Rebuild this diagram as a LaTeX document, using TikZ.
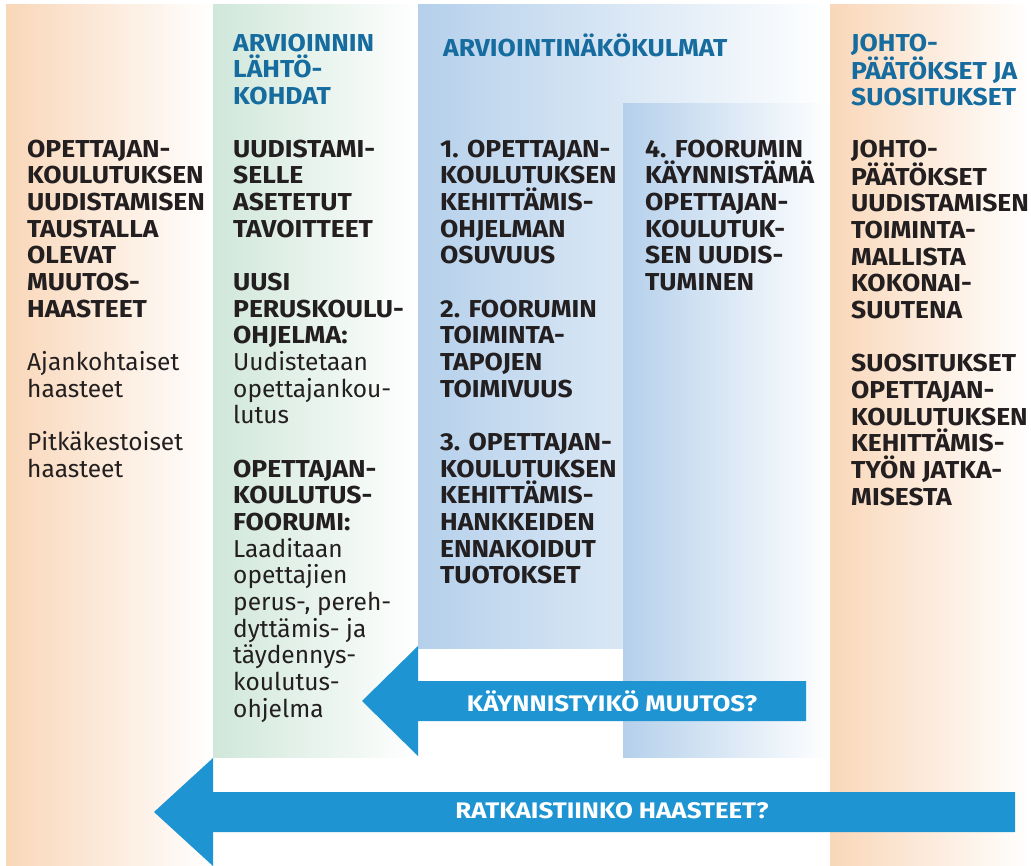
\documentclass[tikz,border=0pt]{standalone}
\usepackage{fontspec}
\setmainfont{Fira Sans}[BoldFeatures={FakeStretch=1.08}]
\newfontfamily\arrowfont{Fira Sans}[BoldFeatures={FakeStretch=1.15}]
\definecolor{orng}{RGB}{249,215,185}
\definecolor{grn}{RGB}{208,231,218}
\definecolor{blu}{RGB}{181,208,235}
\definecolor{arrowblue}{RGB}{30,148,210}
\definecolor{titleblue}{RGB}{22,108,158}
\definecolor{ink}{RGB}{35,31,32}
\newcommand{\tstrut}{\rule{0pt}{24pt}}
\tikzset{
  blk/.style={anchor=north west, inner sep=0pt, align=left, text=ink,
    font=\fontsize{24.5}{26.67}\selectfont\bfseries},
  ttl/.style={blk, text=titleblue},
  arrowtext/.style={inner sep=0pt, text=white, font=\arrowfont\fontsize{22.5}{24}\selectfont\bfseries},
  arrowshape/.style={fill=arrowblue, draw=none}
}
\begin{document}
\begin{tikzpicture}[x=1pt,y=-1pt]
\useasboundingbox (0,0) rectangle (1031,866);
\fill[white] (0,0) rectangle (1031,866);
% columns
\shade[left color=orng, right color=white] (6,5) rectangle (213,866);
\shade[left color=grn, right color=white] (213,5) rectangle (418,757);
\shade[left color=blu, right color=white] (418,5) rectangle (830,648);
\shade[left color=blu, right color=white] (623,104) rectangle (830,757);
\shade[left color=orng, right color=white] (830,5) rectangle (1031,866);
% arrows
\fill[arrowshape] (806,681) -- (418,681) -- (418,646) -- (362,701) -- (418,756) -- (418,721) -- (806,721) -- cycle;
\fill[arrowshape] (1015,792) -- (213,792) -- (213,758) -- (154,812) -- (213,866) -- (213,832) -- (1015,832) -- cycle;
\node[arrowtext] (a1) at (612,701) {KÄYNNISTYIKÖ MUUTOS?};
\node[arrowtext] (a2) at (612,811) {RATKAISTIINKO HAASTEET?};
% titles
\node[ttl] (t2) at (233,27) {\tstrut ARVIOINNIN\\LÄHTÖ-\\KOHDAT};
\node[ttl] (t3) at (443,32) {\tstrut ARVIOINTINÄKÖKULMAT};
\node[ttl] (t5) at (851,27) {\tstrut JOHTO-\\PÄÄTÖKSET JA\\SUOSITUKSET};
% column texts
\node[blk] (c1) at (27,133) {\tstrut OPETTAJAN-\\KOULUTUKSEN\\UUDISTAMISEN\\TAUSTALLA\\OLEVAT\\MUUTOS-\\HAASTEET\\[26.67pt]
\mdseries Ajankohtaiset\\\mdseries haasteet\\[26.67pt]
\mdseries Pitkäkestoiset\\\mdseries haasteet};
\node[blk] (c2) at (233,133) {\tstrut UUDISTAMI-\\SELLE\\ASETETUT\\TAVOITTEET\\[26.67pt]
\bfseries UUSI\\\bfseries PERUSKOULU-\\\bfseries OHJELMA:\\\mdseries Uudistetaan\\\mdseries opettajankou-\\\mdseries lutus\\[26.67pt]
\bfseries OPETTAJAN-\\\bfseries KOULUTUS-\\\bfseries FOORUMI:\\\mdseries Laaditaan\\\mdseries opettajien\\\mdseries perus-, pereh-\\\mdseries dyttämis- ja\\\mdseries täydennys-\\\mdseries koulutus-\\\mdseries ohjelma};
\node[blk] (c3) at (440,133) {\tstrut 1. OPETTAJAN-\\KOULUTUKSEN\\KEHITTÄMIS-\\OHJELMAN\\OSUVUUS\\[26.67pt]
2. FOORUMIN\\TOIMINTA-\\TAPOJEN\\TOIMIVUUS\\[26.67pt]
3. OPETTAJAN-\\KOULUTUKSEN\\KEHITTÄMIS-\\HANKKEIDEN\\ENNAKOIDUT\\TUOTOKSET};
\node[blk] (c4) at (645,133) {\tstrut 4. FOORUMIN\\KÄYNNISTÄMÄ\\OPETTAJAN-\\KOULUTUK-\\SEN UUDIS-\\TUMINEN};
\node[blk] (c5) at (851,133) {\tstrut JOHTO-\\PÄÄTÖKSET\\UUDISTAMISEN\\TOIMINTA-\\MALLISTA\\KOKONAI-\\SUUTENA\\[26.67pt]
SUOSITUKSET\\OPETTAJAN-\\KOULUTUKSEN\\KEHITTÄMIS-\\TYÖN JATKA-\\MISESTA};
\end{tikzpicture}
\end{document}
